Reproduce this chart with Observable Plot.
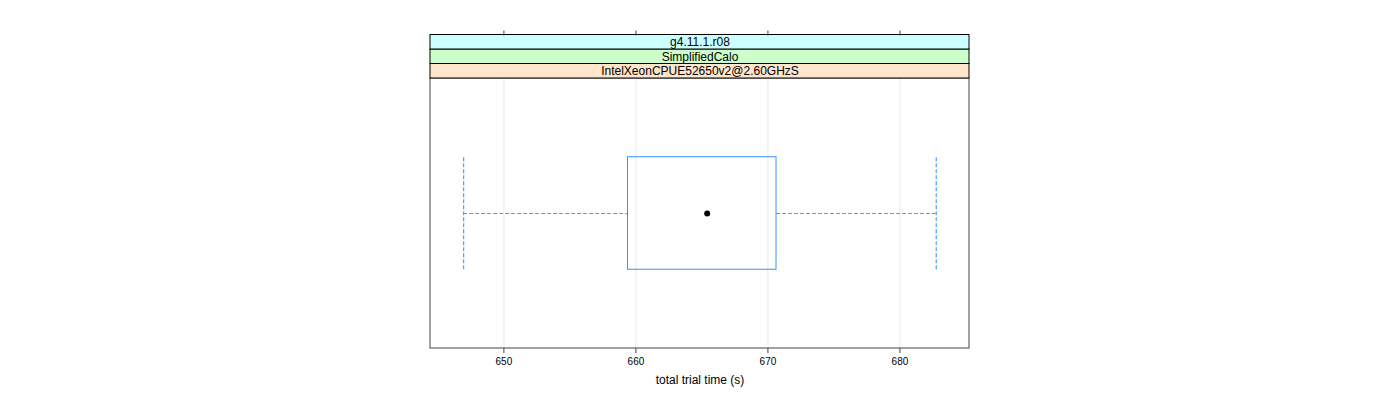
<!DOCTYPE html>
<html>
<head>
<meta charset="utf-8">
<script src="https://cdn.jsdelivr.net/npm/d3@7"></script>
<script src="https://cdn.jsdelivr.net/npm/@observablehq/plot@0.6"></script>
<style>
  html, body { margin: 0; padding: 0; background: #fff; }
  #chart svg { display: block; }
</style>
</head>
<body>
<div id="chart"></div>
<script>
// ---- data ----
const category = ["IntelXeonCPUE52650v2@2.60GHzS"];
const stripLabels = ["IntelXeonCPUE52650v2@2.60GHzS", "SimplifiedCalo", "g4.11.1.r08"]; // bottom to top
const whiskerLow = [646.95];
const q1 = [659.4];
const median = [665.4];
const q3 = [670.65];
const whiskerHigh = [682.75];
const xTicks = [650, 660, 670, 680];
const xLabel = "total trial time (s)";

// ---- styles / layout ----
const stripFills = ["#ffe5cc", "#ccffcc", "#ccffff"];
const boxColor = "#3392ff";
const xDomain = [644.44, 685.27];
const panelLo = 0.4, panelHi = 1.6;          // lattice y-limits for one category
const unitPx = 270 / (panelHi - panelLo);
const stripH = 14.5 / unitPx;
const font = "'Liberation Sans', Arial, Helvetica, sans-serif";

const boxes = category.map((c, i) => ({
  c, lo: whiskerLow[i], q1: q1[i], med: median[i], q3: q3[i], hi: whiskerHigh[i], y: i + 1
}));
const strips = stripLabels.map((s, i) => ({
  s, fill: stripFills[i], y1: panelHi + i * stripH, y2: panelHi + (i + 1) * stripH
}));
const xMid = (xDomain[0] + xDomain[1]) / 2;
const whisk = { stroke: "#4aa0ff", strokeWidth: 1.2, strokeDasharray: "4,2" };

const chart = Plot.plot({
  width: 1400,
  height: 400,
  marginLeft: 430,
  marginRight: 431,
  marginTop: 34.5,
  marginBottom: 52,
  style: { fontFamily: font, background: "#fff" },
  x: { domain: xDomain, ticks: xTicks },
  y: { domain: [panelLo, panelHi + 3 * stripH], axis: null },
  marks: [
    // grid
    Plot.ruleX(xTicks, { y1: panelLo, y2: panelHi, stroke: "#e8e8e8", strokeWidth: 1 }),
    // panel border
    Plot.rect([0], { x1: xDomain[0], x2: xDomain[1], y1: panelLo, y2: panelHi, fill: "none", stroke: "#444", strokeWidth: 1 }),
    // strips
    Plot.rect(strips, { x1: xDomain[0], x2: xDomain[1], y1: "y1", y2: "y2", fill: "fill", stroke: "#000", strokeWidth: 1 }),
    Plot.text(strips, { x: xMid, y: d => (d.y1 + d.y2) / 2, text: "s", fontSize: 12, fill: "#000" }),
    // whiskers
    Plot.ruleY(boxes, { y: "y", x1: "lo", x2: "q1", ...whisk }),
    Plot.ruleY(boxes, { y: "y", x1: "q3", x2: "hi", ...whisk }),
    Plot.ruleX(boxes, { x: "lo", y1: d => d.y - 0.25, y2: d => d.y + 0.25, ...whisk }),
    Plot.ruleX(boxes, { x: "hi", y1: d => d.y - 0.25, y2: d => d.y + 0.25, ...whisk }),
    // box
    Plot.rect(boxes, { x1: "q1", x2: "q3", y1: d => d.y - 0.25, y2: d => d.y + 0.25, fill: "none", stroke: boxColor, strokeWidth: 1 }),
    // median dot
    Plot.dot(boxes, { x: "med", y: "y", r: 3, fill: "#000", stroke: "none" }),
    // axes
    Plot.axisX({ anchor: "bottom", ticks: xTicks, tickSize: 5, tickPadding: 4, fontSize: 10, label: null, stroke: "#444", fill: "#000" }),
    Plot.axisX({ anchor: "top", ticks: xTicks, tickSize: 5, tickFormat: () => "", label: null, stroke: "#444" }),
    Plot.text([xLabel], { frameAnchor: "bottom", dy: 35, text: d => d, fontSize: 12, fill: "#000" })
  ]
});
document.getElementById("chart").appendChild(chart);
</script>
</body>
</html>
